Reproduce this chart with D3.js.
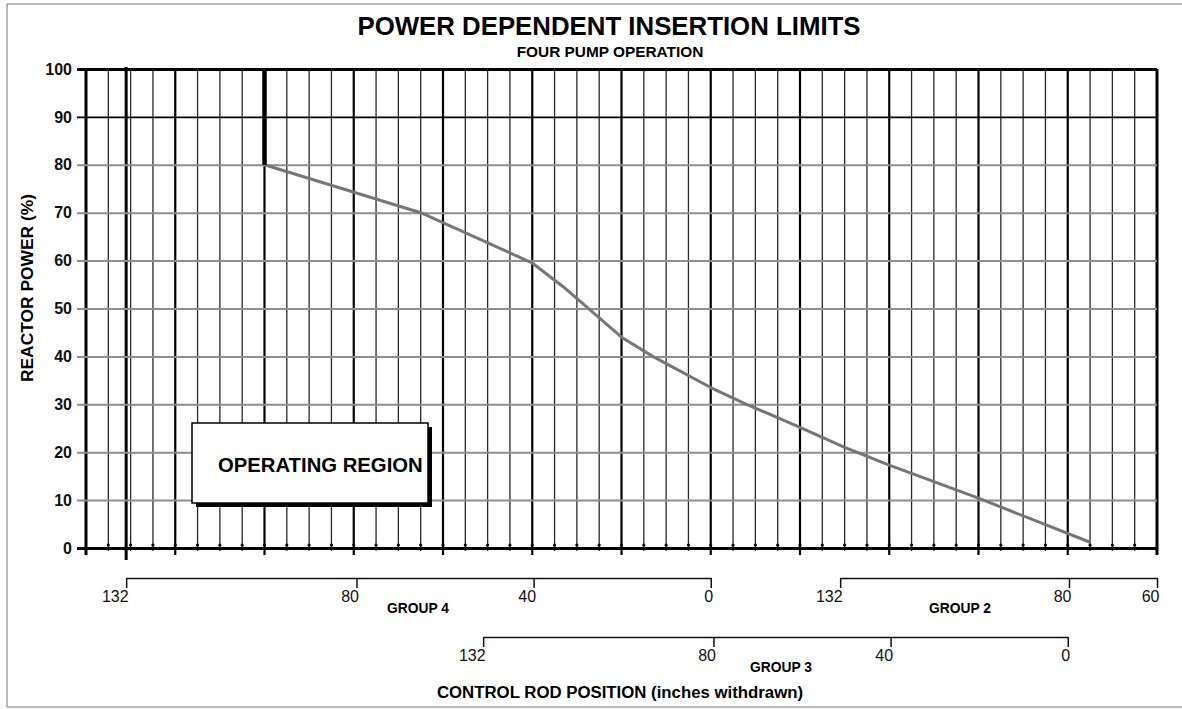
<!DOCTYPE html>
<html>
<head>
<meta charset="utf-8">
<script src="https://cdn.jsdelivr.net/npm/d3@7"></script>
<style>
  html, body { margin: 0; padding: 0; background: #fff; }
  svg { display: block; font-family: Arial, "Liberation Sans", sans-serif; }
</style>
</head>
<body>
<svg id="chart" width="1182" height="709"></svg>
<script>
//
// Data
//

// reactor power axis (%)
var powerTicks = [0, 10, 20, 30, 40, 50, 60, 70, 80, 90, 100]
// overall rod overlap position, 0..240, 5 per grid division
var overlapGrid = d3.range(0, 241, 5)
// insertion limit curve: overlap position and power
var limitPos = [40, 40, 75, 100, 107, 120, 127, 140, 148, 160, 170, 180, 200, 225]
var limitPower = [100, 80, 70, 59.5, 54.5, 44, 40, 33.5, 30, 25.2, 21, 17.3, 10.4, 1.2]

// rod groups: labelled inches withdrawn and where their ends sit on the overlap scale
var group4Inches = [132, 80, 40, 0]
var group4Span = [9, 140]
var group3Inches = [132, 80, 40, 0]
var group3Span = [89, 220]
var group2Inches = [132, 80, 60]
var group2Span = [169, 240]

//
// Setup
//

var svg = d3.select('#chart')
var x = d3.scaleLinear().domain([0, 240]).range([86, 1157])
var y = d3.scaleLinear().domain([0, 100]).range([548, 69])

function groupScale(inches, span) {
  return d3.scaleLinear()
    .domain([d3.max(inches), d3.min(inches)])
    .range([x(span[0]), x(span[1])])
}
var g4 = groupScale(group4Inches, group4Span)
var g3 = groupScale(group3Inches, group3Span)
var g2 = groupScale(group2Inches, group2Span)

// page frame (scan border)
var frame = svg.append('g').attr('stroke', '#777').attr('stroke-width', 1)
frame.append('line').attr('x1', 7).attr('x2', 1182).attr('y1', 4).attr('y2', 4)
frame.append('line').attr('x1', 7).attr('x2', 7).attr('y1', 4).attr('y2', 707)
frame.append('line').attr('x1', 7).attr('x2', 1182).attr('y1', 707).attr('y2', 707)

// titles
svg.append('text')
  .attr('x', 609).attr('y', 35)
  .attr('text-anchor', 'middle')
  .attr('font-size', 25.8).attr('font-weight', 'bold')
  .text('POWER DEPENDENT INSERTION LIMITS')
svg.append('text')
  .attr('x', 610).attr('y', 57)
  .attr('text-anchor', 'middle')
  .attr('font-size', 15.4).attr('font-weight', 'bold')
  .text('FOUR PUMP OPERATION')

//
// Grid
//

function isMajor(d) { return d % 20 === 0 }

svg.append('g')
  .selectAll('line')
  .data(overlapGrid)
  .join('line')
  .attr('x1', function (d) { return x(d) })
  .attr('x2', function (d) { return x(d) })
  .attr('y1', y(100))
  .attr('y2', function (d) { return y(0) + (isMajor(d) ? 7 : 3) })
  .attr('stroke', function (d) { return isMajor(d) ? '#000' : '#2a2a2a' })
  .attr('stroke-width', function (d) {
    if (d === 0 || d === 240) return 3
    return isMajor(d) ? 2.2 : 1.3
  })

// small dots where the grid meets the power zero line
svg.append('g')
  .selectAll('circle')
  .data(overlapGrid.filter(function (d) { return d > 0 && d < 240 }))
  .join('circle')
  .attr('cx', function (d) { return x(d) })
  .attr('cy', y(0) - 3)
  .attr('r', 1.6)
  .attr('fill', '#000')

// group 4 fully withdrawn marker
svg.append('line')
  .attr('x1', g4(132)).attr('x2', g4(132))
  .attr('y1', y(100) - 2).attr('y2', y(0) + 12)
  .attr('stroke', '#000').attr('stroke-width', 3)

// horizontal lines via the power axis
var yAxis = svg.append('g')
  .attr('transform', 'translate(' + x(0) + ',0)')
  .call(d3.axisLeft(y)
    .tickValues(powerTicks)
    .tickSize(-(x(240) - x(0)))
    .tickPadding(14))
yAxis.select('.domain').remove()
yAxis.selectAll('.tick line')
  .attr('x1', -9)
  .attr('stroke', function (d) { return d === 0 || d >= 90 ? '#000' : '#8e8e8e' })
  .attr('stroke-width', function (d) { return d === 0 || d === 100 ? 3 : d === 90 ? 1.6 : 2 })
yAxis.selectAll('.tick text')
  .attr('font-size', 16).attr('font-weight', 'bold')
  .attr('font-family', 'Arial, "Liberation Sans", sans-serif')
  .attr('fill', '#111')

svg.append('text')
  .attr('transform', 'translate(33,288) rotate(-90)')
  .attr('text-anchor', 'middle')
  .attr('font-size', 17.4).attr('font-weight', 'bold')
  .text('REACTOR POWER (%)')

//
// Limit curve
//

var limitPts = d3.zip(limitPos, limitPower)
var line = d3.line()
  .x(function (d) { return x(d[0]) })
  .y(function (d) { return y(d[1]) })

svg.append('path')
  .datum(limitPts.slice(1))
  .attr('d', line)
  .attr('fill', 'none')
  .attr('stroke', '#767676')
  .attr('stroke-width', 3)
  .attr('stroke-linejoin', 'round')
svg.append('path')
  .datum(limitPts.slice(0, 2))
  .attr('d', line)
  .attr('fill', 'none')
  .attr('stroke', '#000')
  .attr('stroke-width', 4.5)

//
// Operating region label
//

var box = svg.append('g')
box.append('rect')
  .attr('x', 196).attr('y', 427).attr('width', 236).attr('height', 80)
  .attr('fill', '#000')
box.append('rect')
  .attr('x', 192).attr('y', 423).attr('width', 236).attr('height', 80)
  .attr('fill', '#fff').attr('stroke', '#000').attr('stroke-width', 1.5)
box.append('text')
  .attr('x', 218).attr('y', 472)
  .attr('font-size', 20.3).attr('font-weight', 'bold')
  .text('OPERATING REGION')

//
// Group axes
//

function groupAxis(scale, inches, yPos, name, nameX, nameY) {
  var g = svg.append('g')
    .attr('transform', 'translate(0,' + yPos + ')')
    .call(d3.axisBottom(scale)
      .tickValues(inches)
      .tickFormat(d3.format('d'))
      .tickSize(10)
      .tickSizeOuter(0)
      .tickPadding(3))
  g.select('.domain').attr('stroke', '#111').attr('stroke-width', 1.5)
  g.selectAll('.tick line').attr('stroke', '#111').attr('stroke-width', 1.5)
  g.selectAll('.tick text')
    .attr('font-size', 16)
    .attr('font-family', 'Arial, "Liberation Sans", sans-serif')
    .attr('fill', '#111')
    .attr('text-anchor', 'end')
    .attr('dx', 2)
  svg.append('text')
    .attr('x', nameX).attr('y', nameY)
    .attr('text-anchor', 'middle')
    .attr('font-size', 13.8).attr('font-weight', 'bold')
    .text(name)
}

groupAxis(g4, group4Inches, 578, 'GROUP 4', 418, 613)
groupAxis(g2, group2Inches, 578, 'GROUP 2', 960, 613)
groupAxis(g3, group3Inches, 637, 'GROUP 3', 781, 672)

svg.append('text')
  .attr('x', 620).attr('y', 698)
  .attr('text-anchor', 'middle')
  .attr('font-size', 16.8).attr('font-weight', 'bold')
  .text('CONTROL ROD POSITION (inches withdrawn)')
</script>
</body>
</html>
